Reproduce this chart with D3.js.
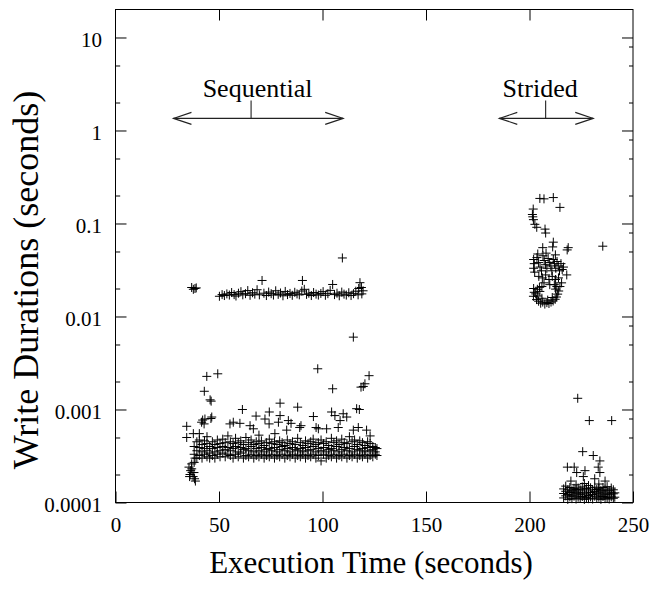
<!DOCTYPE html>
<html>
<head>
<meta charset="utf-8">
<script src="https://cdn.jsdelivr.net/npm/d3@7"></script>
<style>
    body { margin: 0; background: #fff; }
    text { font-family: "Liberation Serif", "Times New Roman", serif; fill: #000; }
</style>
</head>
<body>
<div id="chart"></div>
<script>
// x axis / y axis ticks
const xTicks = [0, 50, 100, 150, 200, 250];
const xTopTicks = [50, 100, 150, 200];
const yMajors = [1e-4, 1e-3, 0.01, 0.1, 1, 10];
const yTickLabels = ['0.0001', '0.001', '0.01', '0.1', '1', '10'];
const yMinorLeft = [2e-4, 5e-4, 2e-3, 5e-3, 0.02, 0.05, 0.2, 0.5, 2, 5];
const yMinorRight = [2e-4, 5e-4, 8e-4, 2e-3, 5e-3, 8e-3, 0.02, 0.05, 0.08, 0.2, 0.5, 0.8, 2, 5, 8];

// sequential phase: the dense low band, one row = [time, durations...]
const seqBandRows = [
    [38.0, .00027, .00033, .00040],
    [39.3, .00030, .00036, .00045],
    [40.5, .00032, .00039, .00047, .00055],
    [41.8, .00030, .00035, .00042],
    [43.0, .00033, .00038, .00046],
    [44.2, .00031, .00036, .00043, .00051],
    [45.5, .00030, .00034, .00040],
    [46.8, .00032, .00038, .00045],
    [48.0, .00030, .00035, .00042],
    [49.2, .00033, .00039, .00047],
    [50.5, .00031, .00036, .00043],
    [51.8, .00034, .00040, .00048],
    [53.0, .00031, .00037, .00044],
    [54.3, .00033, .00039, .00052],
    [55.5, .00032, .00036, .00045],
    [56.8, .00030, .00038, .00043],
    [58.0, .00033, .00040, .00049],
    [59.3, .00031, .00035, .00044],
    [60.5, .00034, .00039, .00046],
    [61.8, .00030, .00037, .00042],
    [63.0, .00032, .00038, .00050],
    [64.3, .00031, .00036, .00044],
    [65.5, .00033, .00040, .00047],
    [66.8, .00030, .00035, .00042],
    [68.0, .00032, .00038, .00045],
    [69.3, .00031, .00036, .00043, .00053],
    [70.5, .00033, .00039, .00046],
    [71.8, .00030, .00035, .00041],
    [73.0, .00032, .00037, .00044],
    [74.3, .00031, .00038, .00048],
    [75.5, .00033, .00036, .00043],
    [76.8, .00030, .00039, .00045],
    [78.0, .00032, .00035, .00042],
    [79.3, .00031, .00037, .00046],
    [80.5, .00033, .00040, .00044],
    [81.8, .00030, .00036, .00041],
    [83.0, .00032, .00038, .00047],
    [84.3, .00031, .00035, .00043],
    [85.5, .00033, .00039, .00045],
    [86.8, .00030, .00037, .00042],
    [88.0, .00032, .00036, .00049],
    [89.3, .00031, .00038, .00044],
    [90.5, .00033, .00035, .00041],
    [91.8, .00030, .00039, .00046],
    [93.0, .00032, .00036, .00043],
    [94.3, .00031, .00037, .00045],
    [95.5, .00033, .00040, .00048],
    [96.8, .00030, .00035, .00042],
    [98.0, .00032, .00038, .00044],
    [99.3, .00028, .00036, .00047],
    [100.5, .00033, .00039, .00043],
    [101.8, .00030, .00035, .00045],
    [103.0, .00032, .00037, .00041],
    [104.3, .00031, .00038, .00049],
    [105.5, .00033, .00036, .00044],
    [106.8, .00030, .00040, .00046],
    [108.0, .00032, .00035, .00042],
    [109.3, .00031, .00037, .00048],
    [110.5, .00033, .00039, .00044],
    [111.8, .00030, .00036, .00043],
    [113.0, .00032, .00038, .00051],
    [114.3, .00031, .00035, .00045],
    [115.5, .00033, .00040, .00047],
    [116.8, .00030, .00037, .00042],
    [118.0, .00032, .00036, .00046],
    [119.3, .00031, .00038, .00044],
    [120.5, .00033, .00035, .00041],
    [121.8, .00030, .00039, .00045],
    [123.0, .00032, .00036, .00043],
    [124.3, .00031, .00037, .00040],
    [125.5, .00033, .00035, .00039],
    [126.3, .00032, .00038]
];

// sequential phase: the ~0.017 s band
const seqTopBand = [
    [36.8, .0205], [38.4, .0200], [37.6, .0196], [39.0, .0203],
    [50.2, .0165], [51.5, .0172], [52.6, .0168], [53.8, .0175], [55.0, .0170], [56.1, .0181],
    [57.3, .0172], [58.2, .0166], [59.4, .0178], [60.6, .0185], [61.5, .0171], [62.8, .0176],
    [63.9, .0190], [65.0, .0169], [66.2, .0180], [67.3, .0174], [68.4, .0194], [69.5, .0171],
    [70.8, .0244], [71.7, .0178], [72.9, .0168], [74.0, .0183], [75.2, .0176], [76.3, .0170],
    [77.4, .0189], [78.6, .0173], [79.7, .0179], [80.9, .0167], [82.0, .0186], [83.1, .0172],
    [84.3, .0177], [85.4, .0169], [86.6, .0182], [87.7, .0175], [88.8, .0171], [90.0, .0188],
    [90.3, .0244], [91.2, .0196], [92.3, .0173], [93.4, .0178], [94.6, .0168], [95.7, .0181],
    [96.9, .0174], [98.0, .0170], [99.2, .0177], [100.3, .0185], [101.4, .0169], [102.6, .0176],
    [103.7, .0191], [104.9, .0221], [105.8, .0172], [107.0, .0178], [108.1, .0167], [109.3, .0183],
    [110.4, .0174], [111.5, .0170], [112.7, .0180], [113.8, .0168], [115.0, .0176], [116.1, .0187],
    [117.2, .0171], [118.1, .0231], [118.8, .0205], [119.6, .0189], [117.5, .0200], [119.0, .0175]
];

// sequential phase: scattered points and the little low clump at the start
const seqScatter = [
    [34.4, .00066], [34.4, .00050], [37.6, .00055], [41.6, .00073], [42.1, .00077], [42.8, .00070],
    [43.2, .00079], [46.5, .00083], [46.1, .00080], [55.3, .00070], [56.9, .00073], [60.1, .00071],
    [61.3, .00100], [65.0, .00067], [66.6, .00062], [67.9, .00085], [72.2, .00079], [74.2, .00070],
    [74.3, .00094], [77.0, .00055], [78.7, .00073], [79.5, .00086], [79.5, .00117], [82.7, .00060],
    [83.5, .00076], [84.8, .00071], [88.0, .00106], [89.0, .00064], [89.6, .00067], [95.6, .00084],
    [96.9, .00064], [98.0, .00062], [102.0, .00062], [104.4, .00094], [106.0, .00086], [107.6, .00064],
    [108.5, .00076], [110.0, .00090], [111.7, .00083], [114.9, .00060], [116.5, .00102], [117.3, .00064],
    [117.8, .00100], [121.3, .00060], [123.0, .00052],
    [42.9, .00157], [44.1, .00227], [49.4, .00242], [45.7, .00127], [46.2, .00123], [97.7, .00274],
    [104.9, .00167], [118.6, .00174], [119.7, .00177], [120.5, .00189], [122.5, .00231],
    [109.6, .0426], [114.9, .0060],
    [35.5, .00024], [36.3, .00022], [37.0, .00021], [36.0, .00020], [37.5, .00019], [38.2, .00018],
    [36.8, .00023], [38.6, .00017], [37.9, .00021], [35.8, .00019], [36.8, .00026], [38.4, .00030]
];

// strided phase: upper cloud (0.013 .. 0.19 s)
const strUpper = [
    [201.8, .143], [201.4, .125], [201.6, .118], [201.9, .110], [202.6, .098], [203.5, .091],
    [205.0, .186], [207.0, .184], [211.5, .190], [214.7, .149], [207.5, .087], [207.8, .079],
    [206.4, .055], [211.2, .056], [211.5, .063], [218.7, .055], [218.2, .052], [235.4, .057],
    [202.0, .041], [202.3, .037], [202.0, .033], [202.5, .030], [203.6, .043], [204.4, .038],
    [205.1, .034], [205.8, .031], [206.5, .045], [207.1, .040], [207.7, .036], [208.4, .033],
    [209.0, .042], [209.6, .038], [210.3, .035], [210.8, .031], [211.5, .041], [212.1, .037],
    [212.7, .033], [213.3, .039], [213.9, .035], [214.5, .031], [215.2, .037], [215.8, .032],
    [216.4, .034], [218.0, .028], [215.5, .023], [214.7, .021], [204.0, .047], [208.0, .048],
    [212.5, .046],
    [204.5, .027], [206.2, .026], [207.8, .028], [209.4, .025], [211.0, .027], [212.6, .025],
    [214.0, .026], [207.0, .023], [209.8, .022], [206.0, .021], [212.0, .022],
    [202.0, .0200], [202.3, .0182], [201.9, .0165], [203.0, .0175], [203.4, .0152], [204.4, .0146],
    [205.4, .0139], [206.4, .0143], [207.4, .0136], [208.4, .0141], [209.4, .0138], [210.4, .0143],
    [211.4, .0147], [212.4, .0153], [213.0, .0162], [213.6, .0174], [214.1, .0188], [203.8, .0196],
    [205.0, .0186], [204.0, .0166], [212.6, .0197], [206.0, .0157], [211.0, .0160], [204.8, .0206],
    [213.2, .0210], [208.8, .0150]
];

// strided phase: the low band near 0.0001 s
const strBandRows = [
    [216.5, .000112, .000125, .000140],
    [217.5, .000118, .000132, .000150],
    [218.5, .000108, .000122, .000137],
    [219.5, .000115, .000128, .000145],
    [220.5, .000110, .000120, .000134],
    [221.5, .000117, .000130, .000142],
    [222.5, .000109, .000124, .000138, .000155],
    [223.5, .000114, .000127, .000143],
    [224.5, .000111, .000121, .000136],
    [225.5, .000116, .000129, .000147],
    [226.5, .000108, .000123, .000139, .000160],
    [227.5, .000113, .000126, .000141],
    [228.5, .000110, .000119, .000133, .000152],
    [229.5, .000115, .000128, .000144],
    [230.5, .000109, .000122, .000137],
    [231.5, .000117, .000131, .000146],
    [232.5, .000111, .000124, .000138],
    [233.5, .000114, .000127, .000142, .000158],
    [234.5, .000108, .000120, .000135],
    [235.5, .000116, .000130, .000145],
    [236.5, .000110, .000123, .000139],
    [237.5, .000113, .000126, .000148],
    [238.5, .000109, .000121, .000134],
    [239.5, .000115, .000129, .000143],
    [240.5, .000111, .000124, .000137],
    [241.2, .000114, .000127]
];

const strScatter = [
    [223.3, .00132], [228.9, .00076], [239.7, .00076], [225.7, .000352], [230.8, .00032],
    [234.0, .00028], [218.3, .00024], [221.6, .00024], [233.2, .00024], [222.8, .00021],
    [226.8, .00022], [234.0, .00021], [236.5, .00017], [226.0, .00019], [231.5, .00018],
    [220.0, .00017]
];

// the two phase markers (data coords)
const phaseLabels = ['Sequential', 'Strided'];
const phaseFrom = [28, 185.4];
const phaseTo = [110, 230.8];
const phaseMid = [65.5, 207.8];
const phaseTextX = [42.1, 187];

const WIDTH = 655;
const HEIGHT = 589;
const margin = { top: 9.5, right: 22, bottom: 86.5, left: 115.5 };
const w = WIDTH - margin.left - margin.right;
const h = HEIGHT - margin.top - margin.bottom;

// flatten the band rows into [x, y] pairs
function unrow(rows) {
    let out = [];
    rows.forEach(r => {
        r.slice(1).forEach(v => out.push([r[0], v]));
    });
    return out;
}

const points = [].concat(
    unrow(seqBandRows), seqTopBand, seqScatter,
    strUpper, unrow(strBandRows), strScatter
);

const svg = d3.select("#chart").append("svg")
    .attr("width", WIDTH)
    .attr("height", HEIGHT);

const g = svg.append("g")
    .attr("transform", `translate(${margin.left}, ${margin.top})`);

const x = d3.scaleLinear().domain([0, 250]).range([0, w]);
const y = d3.scaleLog().domain([1e-4, 20]).range([h, 0]);

// d3 axis sets its own font-size, so override it afterwards
function tidy(sel) {
    sel.select(".domain").remove();
    sel.attr("font-size", 21).attr("font-family", null);
}

// bottom axis with labels, ticks pointing inward
g.append("g")
    .attr("transform", `translate(0, ${h})`)
    .call(d3.axisBottom(x).tickValues(xTicks).tickSize(-11).tickPadding(15).tickFormat(d3.format("d")))
    .call(tidy);

g.append("g")
    .call(d3.axisTop(x).tickValues(xTopTicks).tickSize(-11).tickFormat(""))
    .call(tidy);

// left axis
let yAx = g.append("g")
    .call(d3.axisLeft(y).tickValues(yMajors).tickSize(-11).tickPadding(13.5)
        .tickFormat(d => yTickLabels[yMajors.indexOf(d)]))
    .call(tidy);
yAx.selectAll("text").attr("dy", "0.42em");

g.append("g")
    .call(d3.axisLeft(y).tickValues(yMinorLeft).tickSize(-4.7).tickFormat(""))
    .call(tidy);

// right axis, no labels
g.append("g")
    .attr("transform", `translate(${w}, 0)`)
    .call(d3.axisRight(y).tickValues(yMajors).tickSize(-11).tickFormat(""))
    .call(tidy);
g.append("g")
    .attr("transform", `translate(${w}, 0)`)
    .call(d3.axisRight(y).tickValues(yMinorRight).tickSize(-4).tickFormat(""))
    .call(tidy);

// frame
g.append("rect")
    .attr("width", w)
    .attr("height", h)
    .attr("fill", "none")
    .attr("stroke", "#000")
    .attr("stroke-width", 1);

// the + markers
g.selectAll(".pt")
    .data(points)
    .join("path")
    .attr("class", "pt")
    .attr("d", "M-4.5,0H4.5M0,-4.5V4.5")
    .attr("transform", d => `translate(${x(d[0])}, ${y(d[1])})`)
    .attr("fill", "none")
    .attr("stroke", "#000")
    .attr("stroke-width", 1);

// phase arrows
const arrowY = 1.35, tickTop = 2.1, textY = 2.31;
phaseLabels.forEach((lab, i) => {
    let a = g.append("g").attr("stroke", "#222").attr("stroke-width", 1.1).attr("fill", "none");
    let x0 = x(phaseFrom[i]), x1 = x(phaseTo[i]), yy = y(arrowY);
    a.append("line").attr("x1", x0).attr("x2", x1).attr("y1", yy).attr("y2", yy);
    a.append("line").attr("x1", x(phaseMid[i])).attr("x2", x(phaseMid[i]))
        .attr("y1", yy).attr("y2", y(tickTop));
    a.append("path").attr("d", `M${x0 + 18},${yy - 6}L${x0},${yy}L${x0 + 18},${yy + 6}`);
    a.append("path").attr("d", `M${x1 - 18},${yy - 6}L${x1},${yy}L${x1 - 18},${yy + 6}`);
    g.append("text")
        .attr("x", x(phaseTextX[i]))
        .attr("y", y(textY))
        .attr("font-size", 26)
        .text(lab);
});

// axis titles
svg.append("text")
    .attr("x", 371)
    .attr("y", 573)
    .attr("text-anchor", "middle")
    .attr("font-size", 31)
    .text("Execution Time (seconds)");

svg.append("text")
    .attr("transform", "translate(38, 280) rotate(-90)")
    .attr("text-anchor", "middle")
    .attr("font-size", 36)
    .text("Write Durations (seconds)");
</script>
</body>
</html>
